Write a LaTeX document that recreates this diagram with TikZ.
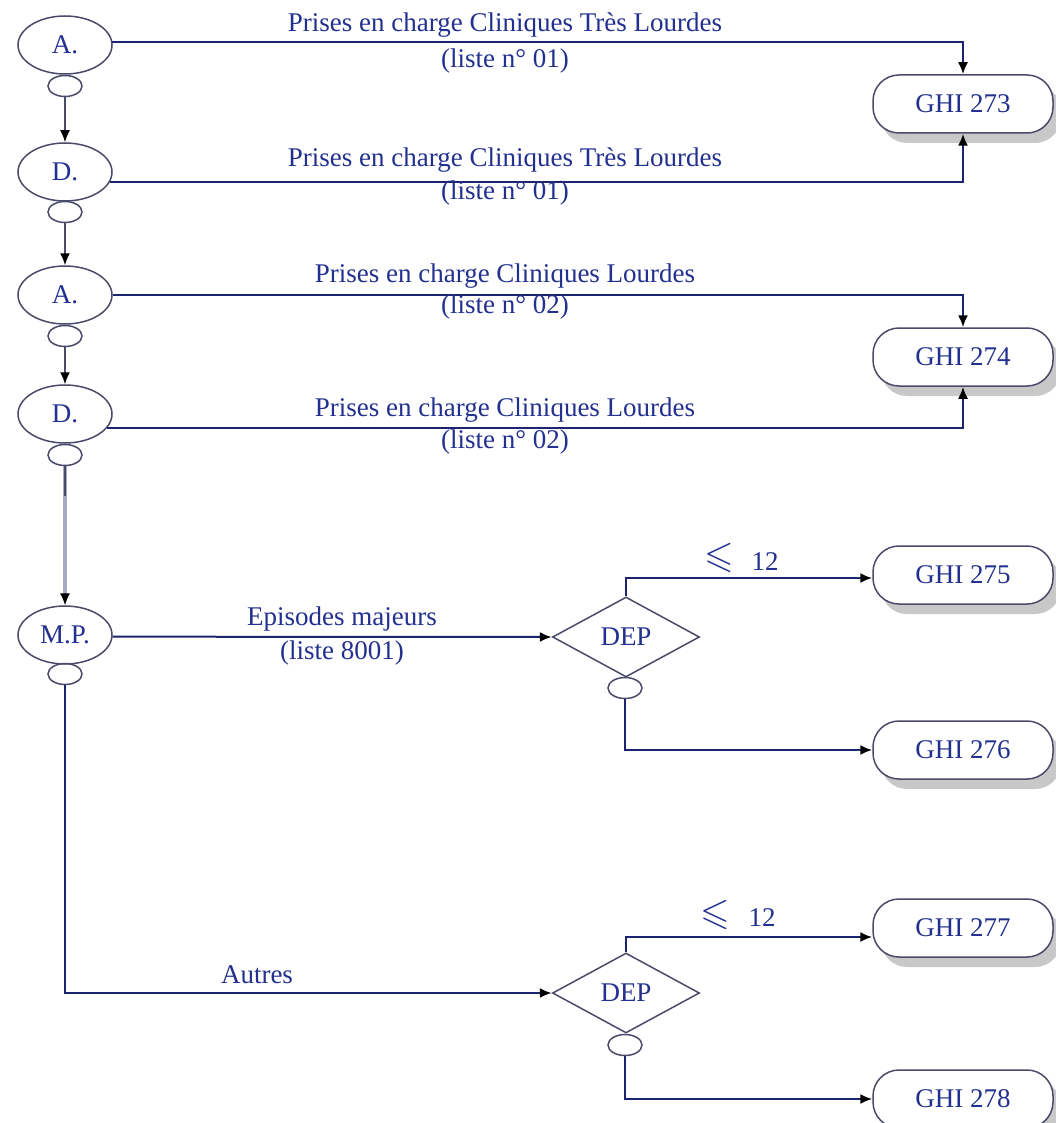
\documentclass[tikz,border=0pt]{standalone}
\usepackage{fontspec}
\usepackage{amssymb}
\setmainfont{Liberation Serif}
\usetikzlibrary{shapes.geometric,shadows,arrows.meta}
\definecolor{txtblue}{HTML}{22308F}
\definecolor{linenavy}{HTML}{1C2470}
\definecolor{outl}{HTML}{4A4A6A}
\definecolor{graylink}{HTML}{A8A8C8}
\tikzset{
  txt/.style={text=txtblue,font=\fontsize{27}{29}\selectfont},
  big/.style={ellipse,draw=outl,line width=1.5pt,minimum width=94pt,minimum height=58pt,inner sep=0pt,txt},
  small/.style={ellipse,draw=outl,line width=1.5pt,minimum width=34pt,minimum height=21pt,inner sep=0pt},
  ghi/.style={rounded corners=26pt,draw=outl,line width=1.5pt,fill=white,minimum width=180pt,minimum height=58pt,txt,
    drop shadow={shadow xshift=8pt,shadow yshift=-10pt,fill=black!30,opacity=0.7}},
  dep/.style={diamond,draw=outl,line width=1.5pt,aspect=1.8,minimum width=147pt,minimum height=80pt,inner sep=0pt,txt},
  lbl/.style={txt,inner sep=0pt},
  tip/.style={-{Latex[length=12pt,width=10pt,color=black]}},
  conn/.style={draw=linenavy,line width=2pt},
  arr/.style={conn,tip},
  down/.style={draw=outl,line width=1.5pt,tip},
}
\begin{document}
\begin{tikzpicture}[x=1pt,y=-1pt]
\useasboundingbox[fill=white] (0,0) rectangle (1055,1123);
% left column
\node[big] (a1) at (65,45) {A.};
\node[small] (s1) at (65,86) {};
\node[big] (d1) at (65,172) {D.};
\node[small] (s2) at (65,212) {};
\node[big] (a2) at (65,295) {A.};
\node[small] (s3) at (65,336) {};
\node[big] (d2) at (65,414) {D.};
\node[small] (s4) at (65,455) {};
\node[big] (mp) at (65,635) {M.P.};
\node[small] (s5) at (65,674) {};
% GHI boxes
\node[ghi] (g273) at (963,104) {GHI 273};
\node[ghi] (g274) at (963,357) {GHI 274};
\node[ghi] (g275) at (963,575) {GHI 275};
\node[ghi] (g276) at (963,750) {GHI 276};
\node[ghi] (g277) at (963,928) {GHI 277};
\node[ghi] (g278) at (963,1099) {GHI 278};
% diamonds
\node[dep] (dep1) at (626,637) {DEP};
\node[small] (ds1) at (625,688) {};
\node[dep] (dep2) at (626,993) {DEP};
\node[small] (ds2) at (625,1045) {};
% vertical links
\draw[down] (s1.south) -- (d1.north);
\draw[down] (s2.south) -- (a2.north);
\draw[down] (s3.south) -- (d2.north);
\draw[draw=graylink,line width=4pt] (s4.south) -- ([yshift=9pt]mp.north);
\draw[draw=outl,line width=1.2pt] (s4.south) -- ([yshift=-30pt]s4.south);
\draw[tip,draw=outl,line width=1pt] ([yshift=12pt]mp.north) -- (mp.north);
% horizontal connectors
\draw[arr] (a1.4) -| (g273.north);
\draw[arr] (d1.-13) -| (g273.south);
\draw[arr] (a2.east) -| (g274.north);
\draw[arr] (d2.-19) -| (g274.south);
\draw[arr] (mp.-2) -- (dep1.west);
\draw[arr] (s5.south) |- (dep2.west);
\draw[arr] (dep1.north) |- ([yshift=-3pt]g275.west);
\draw[arr] (ds1.south) |- (g276.west);
\draw[arr] (dep2.north) |- ([yshift=-9pt]g277.west);
\draw[arr] (ds2.south) |- (g278.west);
% labels
\node[lbl] (l1a) at (505,25) {Prises en charge Cliniques Très Lourdes};
\node[lbl] (l1b) at (505,61) {(liste n° 01)};
\node[lbl] (l2a) at (505,160) {Prises en charge Cliniques Très Lourdes};
\node[lbl] (l2b) at (505,193) {(liste n° 01)};
\node[lbl] (l3a) at (505,276) {Prises en charge Cliniques Lourdes};
\node[lbl] (l3b) at (505,307) {(liste n° 02)};
\node[lbl] (l4a) at (505,410) {Prises en charge Cliniques Lourdes};
\node[lbl] (l4b) at (505,442) {(liste n° 02)};
\node[lbl] (l5a) at (342,619) {Episodes majeurs};
\node[lbl] (l5b) at (342,653) {(liste 8001)};
\node[lbl] (l6) at (257,975) {Autres};
\node[lbl,font=\fontsize{38}{38}\selectfont] (le1s) at (719,558) {$\leqslant$};
\node[lbl] (le1n) at (765,562) {12};
\node[lbl,font=\fontsize{38}{38}\selectfont] (le2s) at (715,915) {$\leqslant$};
\node[lbl] (le2n) at (762,918) {12};
\end{tikzpicture}
\end{document}
